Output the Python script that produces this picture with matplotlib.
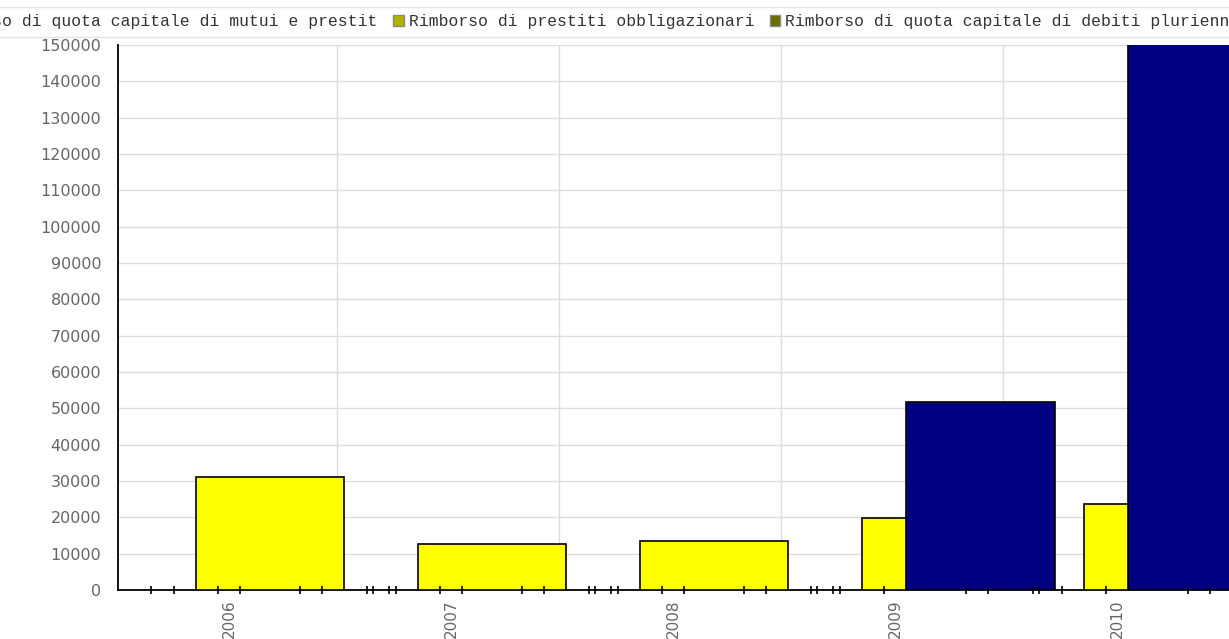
import matplotlib.pyplot as plt
from matplotlib.patches import Rectangle

# dati
anni = ['2006', '2007', '2008', '2009', '2010']
serie = [
    'Rimborso per anticipazioni di cassa',
    'Rimborso di finanziamenti a breve termine',
    'Rimborso di quota capitale di mutui e prestit',
    'Rimborso di prestiti obbligazionari',
    'Rimborso di quota capitale di debiti pluriennali',
]
anticipazioni = [0, 0, 0, 0, 0]
finanziamenti = [0, 0, 0, 0, 0]
mutui = [31000, 12700, 13500, 19800, 23600]
obbligazionari = [0, 0, 0, 0, 0]
pluriennali = [0, 0, 0, 51700, 165000]
valori = [anticipazioni, finanziamenti, mutui, obbligazionari, pluriennali]

colori_barre = ['#ffff00', '#ffff00', '#ffff00', '#ffff00', '#000080']
colori_legenda = ['#b4b400', '#b4b400', '#b4b400', '#b4b400', '#6b6b00']

W, H = 1229, 639
fig = plt.figure(figsize=(W / 100, H / 100), dpi=100)
# l'area del grafico continua oltre il bordo destro (come nel riferimento)
extra = 30
ax = fig.add_axes([118 / W, 49 / H, (1110 + extra) / W, 545 / H])

larghezza = 0.67
passo = 0.1
inizio = -0.35

for k, vals in enumerate(valori):
    for i, v in enumerate(vals):
        sx = i + inizio + k * passo
        if v > 0:
            ax.bar(sx, v, width=larghezza, align='edge', color=colori_barre[k],
                   edgecolor='black', linewidth=1.2, zorder=2 + k)
        else:
            # barra a zero: restano solo i due trattini sull'asse
            ax.plot([sx, sx + larghezza], [0, 0], linestyle='none', marker='|',
                    markersize=6, markeredgewidth=1.2, color='black',
                    clip_on=False, zorder=10)

ax.set_xlim(-0.5, len(anni) - 0.5 + extra / 222)
ax.set_ylim(0, 150000)
ax.set_yticks(range(0, 150001, 10000))
ax.set_xticks(range(len(anni)))
ax.set_xticklabels(anni, rotation=90)
ax.tick_params(axis='both', length=0, labelcolor='#666666')
ax.tick_params(axis='x', pad=7, labelsize=11)
ax.tick_params(axis='y', pad=12, labelsize=11.5)

for y in range(10000, 150001, 10000):
    ax.axhline(y, color='#dddddd', linewidth=1, zorder=0)
for i in range(len(anni) - 1):
    ax.axvline(i + 0.5 - 0.014, color='#dddddd', linewidth=1, zorder=0)

ax.spines['top'].set_visible(False)
ax.spines['right'].set_visible(False)
ax.spines['left'].set_linewidth(1.3)
ax.spines['bottom'].set_linewidth(1.3)

maniglie = [Rectangle((0, 0), 1, 1, facecolor=c, edgecolor='#888888', linewidth=1)
            for c in colori_legenda]
leg = fig.legend(maniglie, serie, loc='upper left', ncol=5,
                 bbox_to_anchor=(0, 1 - 7 / H), bbox_transform=fig.transFigure,
                 prop={'family': 'Liberation Mono', 'size': 11.8},
                 handlelength=0.65, handleheight=0.65, handletextpad=0.3,
                 columnspacing=0.95, borderpad=0.45, borderaxespad=0,
                 frameon=True, fancybox=False, edgecolor='#dddddd',
                 labelcolor='#333333')

# sposta la legenda in modo che la quarta voce cada dove nel riferimento
fig.canvas.draw()
x0 = leg.legend_handles[3].get_window_extent().x0
leg.set_bbox_to_anchor(((393 - x0) / W, 1 - 7 / H), transform=fig.transFigure)

fig.savefig('out.png', dpi=100)
